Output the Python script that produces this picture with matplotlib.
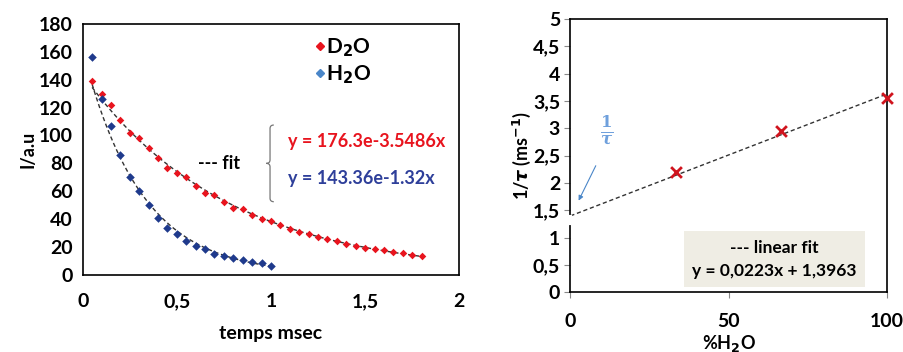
import numpy as np
import matplotlib
matplotlib.use('Agg')
import matplotlib.pyplot as plt
from matplotlib.lines import Line2D
from matplotlib.ticker import FuncFormatter
from matplotlib.path import Path
from matplotlib.patches import PathPatch

plt.rcParams['font.family'] = ['Lato', 'DejaVu Sans']
plt.rcParams['font.weight'] = 'bold'

# ---------------- data ----------------
# left: luminescence decay (time in ms)
t_d2o = [0.05, 0.1, 0.15, 0.2, 0.25, 0.3, 0.35, 0.4, 0.45, 0.5, 0.55, 0.6,
         0.65, 0.7, 0.75, 0.8, 0.85, 0.9, 0.95, 1.0, 1.05, 1.1, 1.15, 1.2,
         1.25, 1.3, 1.35, 1.4, 1.45, 1.5, 1.55, 1.6, 1.65, 1.7, 1.75, 1.8]
i_d2o = [139, 130, 122, 111, 102, 98, 91, 84, 77, 73, 70, 64,
         59, 57, 52, 48, 47, 43, 40, 39, 36, 33, 31, 29,
         27.5, 25.6, 24, 22.5, 20.6, 19.4, 18.7, 18, 16.5, 15.5, 14, 13.6]
t_h2o = [0.05, 0.1, 0.15, 0.2, 0.25, 0.3, 0.35, 0.4, 0.45, 0.5,
         0.55, 0.6, 0.65, 0.7, 0.75, 0.8, 0.85, 0.9, 0.95, 1.0]
i_h2o = [156, 126, 107, 86, 70, 60, 50, 40.7, 34, 29,
         24, 21, 18.4, 15.3, 13.4, 12.4, 10.8, 9, 8.4, 6.7]

# right: 1/tau vs %H2O
pct_h2o = [33.3, 66.7, 100]
inv_tau = [2.2, 2.95, 3.55]
fit_slope = 0.0223
fit_intercept = 1.3963

RED = '#E8141E'
BLUE = '#1F3A8C'
LBLUE = '#4A86C8'
TXT_RED = '#E8141E'
TXT_BLUE = '#2E3F9A'

fig = plt.figure(figsize=(9.04, 3.52), dpi=100)

comma = FuncFormatter(lambda v, p: ('%g' % v).replace('.', ','))

# ================= left chart =================
ax1 = fig.add_axes([0.0915, 0.219, 0.4165, 0.713])
ax1.set_xlim(0, 2)
ax1.set_ylim(0, 180)
ax1.set_xticks([0, 0.5, 1, 1.5, 2])
ax1.set_yticks(range(0, 181, 20))
ax1.xaxis.set_major_formatter(comma)
ax1.tick_params(length=0, labelsize=14, pad=7)
ax1.tick_params(axis='x', pad=13)
for s in ax1.spines.values():
    s.set_linewidth(1.2)

# exponential fits (log-linear least squares)
for t, y in ((t_d2o, i_d2o), (t_h2o, i_h2o)):
    b, a = np.polyfit(t, np.log(y), 1)
    tt = np.linspace(min(t), max(t), 200)
    ax1.plot(tt, np.exp(a + b * tt), ls=(0, (3, 2)), color='#333333', lw=1, zorder=2)

ax1.scatter(t_d2o, i_d2o, marker='D', s=15, color=RED, zorder=3, linewidths=0)
ax1.scatter(t_h2o, i_h2o, marker='D', s=19, color=BLUE, zorder=3, linewidths=0)

ax1.set_xlabel('temps msec', fontsize=14, fontweight='bold', labelpad=11)
ax1.set_ylabel('I/a.u', fontsize=13, fontweight='bold', labelpad=2)

handles = [Line2D([], [], marker='D', ls='', color=RED, markersize=4),
           Line2D([], [], marker='D', ls='', color=LBLUE, markersize=4)]
ax1.legend(handles, ['D$_2$O', 'H$_2$O'], loc='upper right', bbox_to_anchor=(0.815, 1.025),
           frameon=False, handletextpad=-0.2, handlelength=1, labelspacing=0.2,
           prop={'size': 15, 'weight': 'bold'})

ax1.text(0.61, 80, '--- fit', fontsize=13, fontweight='bold', va='center')
# curly brace
bx, btop, bbot, bmid = 0.995, 107.5, 52.5, 80
w, h = 0.02, 2.5
verts = [(bx + w, btop), (bx, btop), (bx, btop - h), (bx, bmid + h),
         (bx, bmid), (bx - w, bmid), (bx, bmid), (bx, bmid - h),
         (bx, bbot + h), (bx, bbot), (bx + w, bbot)]
codes = [Path.MOVETO, Path.CURVE3, Path.CURVE3, Path.LINETO,
         Path.CURVE3, Path.CURVE3, Path.CURVE3, Path.CURVE3,
         Path.LINETO, Path.CURVE3, Path.CURVE3]
ax1.add_patch(PathPatch(Path(verts, codes), fill=False, edgecolor='#777777', lw=0.9))
ax1.text(1.09, 95.5, 'y = 176.3e-3.5486x', color=TXT_RED, fontsize=13, fontweight='bold', va='center')
ax1.text(1.09, 69.5, 'y = 143.36e-1.32x', color=TXT_BLUE, fontsize=13, fontweight='bold', va='center')

# ================= right chart =================
ax2 = fig.add_axes([0.631, 0.170, 0.350, 0.776])
ax2.set_xlim(0, 100)
ax2.set_ylim(0, 5)
ax2.set_xticks([0, 50, 100])
ax2.set_yticks(np.arange(0, 5.01, 0.5))
ax2.yaxis.set_major_formatter(comma)
ax2.tick_params(length=4, width=0.8, color='#888888', labelsize=14)
ax2.tick_params(axis='x', pad=11)
for s in ax2.spines.values():
    s.set_linewidth(1.2)

xx = np.array([0, 100])
ax2.plot(xx, fit_slope * xx + fit_intercept, ls=(0, (3, 2)), color='#333333', lw=1, zorder=2)
ax2.scatter(pct_h2o, inv_tau, marker='x', s=60, color='#D0141E', linewidths=2, zorder=3,
            clip_on=False)
# gap in the y axis
ax2.plot([0, 0], [1.27, 1.38], color='white', lw=3, clip_on=False, zorder=5)

ax2.annotate('', xy=(2.2, 1.63), xytext=(8.4, 2.36),
             arrowprops=dict(arrowstyle='-|>', color=LBLUE, lw=0.8, mutation_scale=7))
ax2.text(11.4, 2.97, r'$\frac{1}{\tau}$', color='#6FA0DC', fontsize=17, fontweight='normal',
         ha='center', va='center', math_fontfamily='dejavuserif')

ax2.text(64.5, 0.6, '--- linear fit\ny = 0,0223x + 1,3963', fontsize=12.5, fontweight='bold',
         ha='center', va='center', linespacing=1.5,
         bbox=dict(boxstyle='square,pad=0.5', facecolor='#EFEDE4', edgecolor='none'))

ax2.set_xlabel('%H$_2$O', fontsize=13, fontweight='bold', labelpad=2)
ax2.set_ylabel(r'1/$\tau$ (ms$^{-1}$)', fontsize=13, fontweight='bold', labelpad=0)

plt.savefig('out.png', dpi=100, facecolor='white')
